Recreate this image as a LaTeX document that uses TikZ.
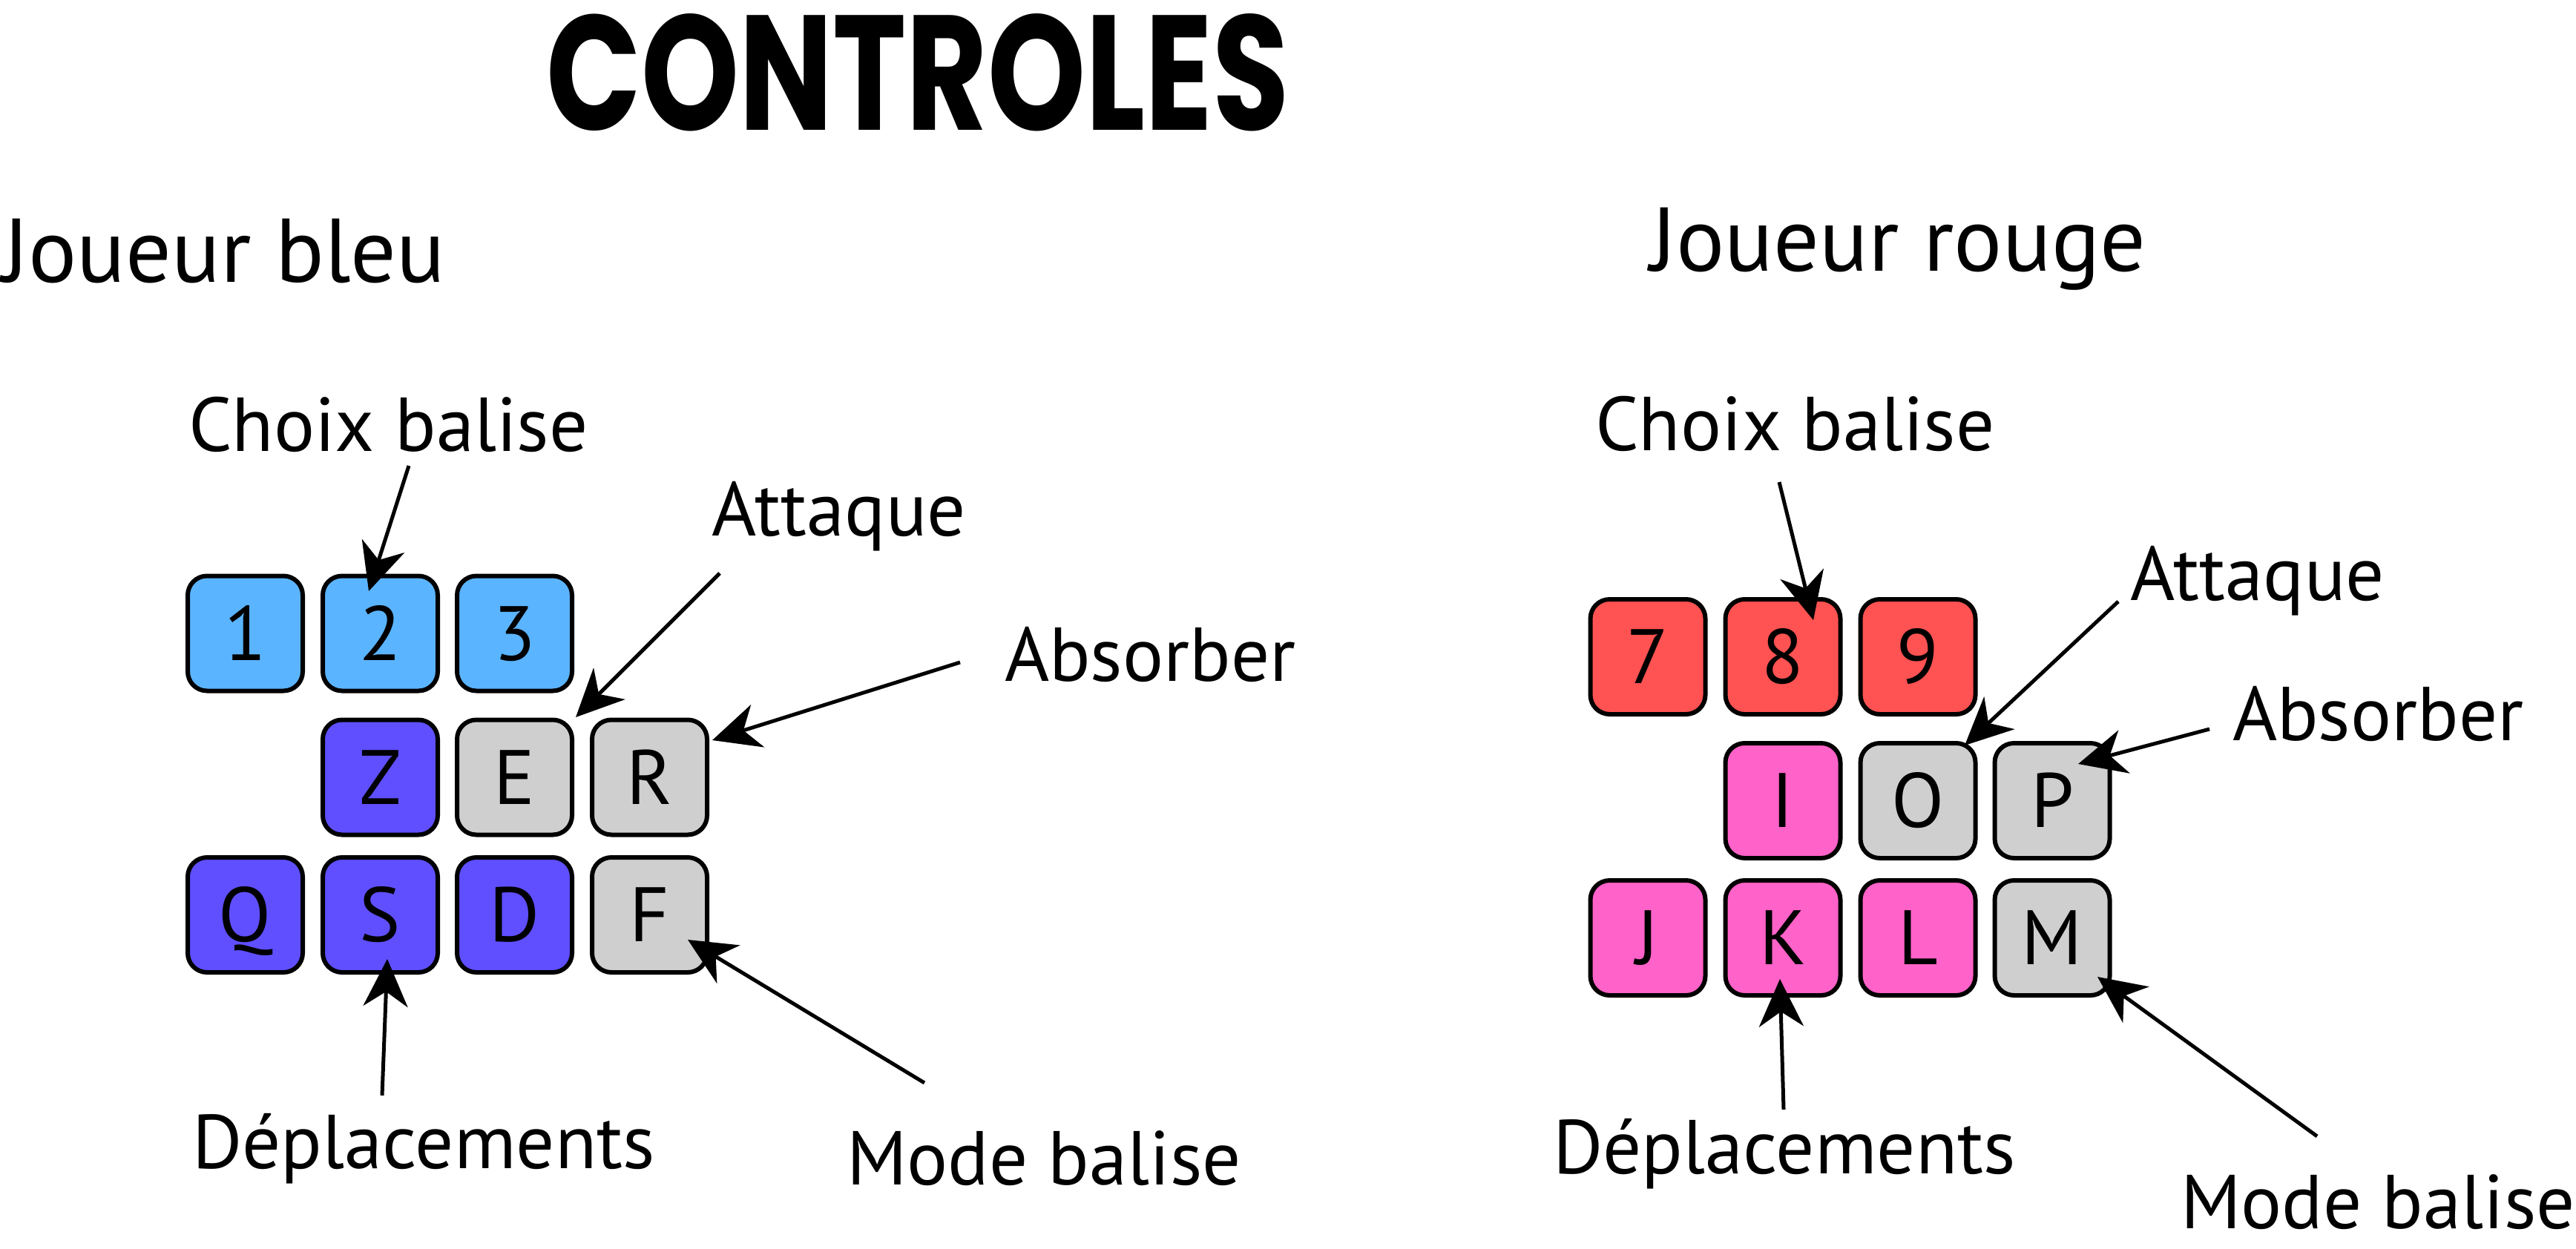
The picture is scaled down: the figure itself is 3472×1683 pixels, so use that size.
\documentclass[tikz,border=0pt]{standalone}
\usepackage{fontspec}
\setmainfont{PT Sans}
\newfontfamily\titlefont{Poppins}
\usetikzlibrary{arrows.meta}
\definecolor{kblue}{HTML}{5BB4FF}
\definecolor{kpurple}{HTML}{5F4FFF}
\definecolor{kgray}{HTML}{CFCFCF}
\definecolor{kred}{HTML}{FF5252}
\definecolor{kpink}{HTML}{FF62C8}
\tikzset{
  keybox/.style={draw=black, line width=0.6pt, rounded corners=2.6pt,
    minimum width=15.5pt, minimum height=15.5pt, inner sep=0pt,
    font=\fontsize{10.4pt}{12pt}\selectfont, text height=7.2pt, text depth=0pt},
  lbl/.style={anchor=base west, inner sep=0pt, font=\fontsize{10.3pt}{12pt}\selectfont},
  player/.style={anchor=base west, inner sep=0pt, font=\fontsize{12.2pt}{14pt}\selectfont},
  arr/.style={line width=0.5pt, -{Stealth[length=6.4pt, width=6pt, inset=2pt]}}
}
\begin{document}
\begin{tikzpicture}[x=0.1pt, y=-0.1pt]
\useasboundingbox (0,0) rectangle (3472,1683);
% title
\node[inner sep=0pt] (title) at (1237,98) {\resizebox{100.2pt}{15.7pt}{\titlefont\bfseries CONTROLES}};
% players
\node[player] (jb) at (1,381) {Joueur bleu};
\node[player] (jr) at (2222,366) {Joueur rouge};
% left keys
\node[keybox, fill=kblue] (k1) at (330.5,854) {1};
\node[keybox, fill=kblue] (k2) at (512.5,854) {2};
\node[keybox, fill=kblue] (k3) at (693.5,854) {3};
\node[keybox, fill=kpurple] (kZ) at (512.5,1048) {Z};
\node[keybox, fill=kgray] (kE) at (693.5,1048) {E};
\node[keybox, fill=kgray] (kR) at (875.5,1048) {R};
\node[keybox, fill=kpurple] (kQ) at (330.5,1233.5) {Q};
\node[keybox, fill=kpurple] (kS) at (512.5,1233.5) {S};
\node[keybox, fill=kpurple] (kD) at (693.5,1233.5) {D};
\node[keybox, fill=kgray] (kF) at (875.5,1233.5) {F};
% right keys
\node[keybox, fill=kred] (k7) at (2221,885.5) {7};
\node[keybox, fill=kred] (k8) at (2403,885.5) {8};
\node[keybox, fill=kred] (k9) at (2585,885.5) {9};
\node[keybox, fill=kpink] (kI) at (2403,1079.5) {I};
\node[keybox, fill=kgray] (kO) at (2585,1079.5) {O};
\node[keybox, fill=kgray] (kP) at (2766,1079.5) {P};
\node[keybox, fill=kpink] (kJ) at (2221,1264.5) {J};
\node[keybox, fill=kpink] (kK) at (2403,1264.5) {K};
\node[keybox, fill=kpink] (kL) at (2585,1264.5) {L};
\node[keybox, fill=kgray] (kM) at (2766,1264.5) {M};
% left labels
\node[lbl] (lcb) at (252,608) {Choix balise};
\node[lbl] (lat) at (957,722) {Attaque};
\node[lbl] (lab) at (1352,918) {Absorber};
\node[lbl] (lde) at (257,1575) {Déplacements};
\node[lbl] (lmb) at (1139,1597) {Mode balise};
% right labels
\node[lbl] (rcb) at (2148,607) {Choix balise};
\node[lbl] (rat) at (2869,809) {Attaque};
\node[lbl] (rab) at (3007,998) {Absorber};
\node[lbl] (rde) at (2091,1582) {Déplacements};
\node[lbl] (rmb) at (2937,1656) {Mode balise};
% arrow coordinates (left)
\coordinate (s1) at (551,628);  \coordinate (t1) at (497,797);
\coordinate (s2) at (970,773);  \coordinate (t2) at (776,967);
\coordinate (s3) at (1294,893); \coordinate (t3) at (960,998);
\coordinate (s4) at (515,1477); \coordinate (t4) at (522,1293);
\coordinate (s5) at (1246,1460);\coordinate (t5) at (927,1267);
% arrow coordinates (right)
\coordinate (s6) at (2398,650);  \coordinate (t6) at (2444,836);
\coordinate (s7) at (2855,811);  \coordinate (t7) at (2648,1005);
\coordinate (s8) at (2978,983);  \coordinate (t8) at (2801,1030);
\coordinate (s9) at (2404,1496); \coordinate (t9) at (2399,1320);
\coordinate (s10) at (3123,1532);\coordinate (t10) at (2827,1317);
\foreach \i in {1,...,10} {\draw[arr] (s\i) -- (t\i);}
\end{tikzpicture}
\end{document}
